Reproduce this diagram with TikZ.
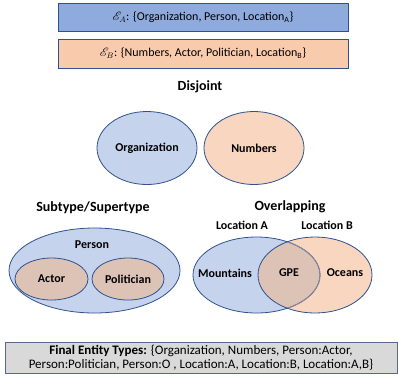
\documentclass[tikz,border=0pt]{standalone}
\usepackage{fontspec}
\setmainfont{Carlito}
\usepackage{mathrsfs}
\usetikzlibrary{shapes.geometric}
\definecolor{boxA}{HTML}{8FAADC}
\definecolor{boxB}{HTML}{F8CBAD}
\definecolor{edgeblue}{HTML}{2F528F}
\definecolor{lblue}{HTML}{C5D3EC}
\definecolor{lpeach}{HTML}{F8D6C0}
\definecolor{mixc}{HTML}{DDC2B6}
\definecolor{grayfill}{HTML}{D9D9D9}
\definecolor{grayedge}{HTML}{55698A}
\definecolor{innergray}{HTML}{8C8A98}
\begin{document}
\begin{tikzpicture}[x=1pt,y=-1pt,
  topbox/.style={draw=edgeblue, line width=0.8pt, minimum width=290pt, minimum height=28pt, inner sep=0pt, font=\fontsize{12}{14}\selectfont},
  ell/.style={ellipse, draw=edgeblue, line width=0.8pt, inner sep=0pt},
  lbl/.style={font=\bfseries\fontsize{12}{14}\selectfont, inner sep=0pt},
  ttl/.style={font=\bfseries\fontsize{14}{16}\selectfont, inner sep=0pt}]
\useasboundingbox (0,0) rectangle (398,376);
% top boxes
\node[topbox, fill=boxA] (ea) at (203,17) {$\mathscr{E}_A$: \{Organization, Person, Location\textsubscript{A}\}};
\node[topbox, fill=boxB, minimum height=29pt] (eb) at (203,53.5) {$\mathscr{E}_B$: \{Numbers, Actor, Politician, Location\textsubscript{B}\}};
% disjoint
\node[ttl] (tdis) at (200,87) {Disjoint};
\node[ell, fill=lblue, minimum width=100pt, minimum height=73pt, lbl] (org) at (147,148) {Organization};
\node[ell, fill=lpeach, minimum width=100pt, minimum height=73pt, lbl] (num) at (254,148) {Numbers};
% subtype
\node[ttl] (tsub) at (93,208) {Subtype/Supertype};
\node[ell, fill=lblue, minimum width=171pt, minimum height=85pt] (per) at (94.5,270.5) {};
\node[lbl] (perl) at (92,245) {Person};
\node[ell, fill=mixc, minimum width=73pt, minimum height=42pt, lbl] (act) at (51.5,279) {Actor};
\node[ell, fill=mixc, minimum width=72pt, minimum height=42pt, lbl] (pol) at (128,279) {Politician};
% overlapping
\node[ttl] (tover) at (290,207) {Overlapping};
\node[lbl] (la) at (242,225) {Location A};
\node[lbl] (lb) at (327,225) {Location B};
\coordinate (ca) at (256.5,275);
\coordinate (cb) at (315,275);
\fill[lblue] (ca) ellipse [x radius=63.5, y radius=38];
\fill[lpeach] (cb) ellipse [x radius=57, y radius=38];
\begin{scope}
\clip (ca) ellipse [x radius=63.5, y radius=38];
\fill[mixc] (cb) ellipse [x radius=57, y radius=38];
\end{scope}
\draw[edgeblue, line width=0.8pt] (ca) ellipse [x radius=63.5, y radius=38];
\begin{scope}
\clip (cb) ellipse [x radius=57, y radius=38];
\draw[innergray, line width=0.8pt] (ca) ellipse [x radius=63.5, y radius=38];
\end{scope}
\draw[edgeblue, line width=0.8pt] (cb) ellipse [x radius=57, y radius=38];
\node[lbl] (mnt) at (225,273) {Mountains};
\node[lbl] (gpe) at (289,273) {GPE};
\node[lbl] (oce) at (345,273) {Oceans};
% final
\node[draw=grayedge, fill=grayfill, line width=0.8pt, minimum width=392pt, minimum height=31pt, inner sep=0pt, align=center, font=\fontsize{13}{14}\selectfont] (fin) at (201,357.5) {\textbf{Final Entity Types:} \{Organization, Numbers, Person:Actor,\\Person:Politician, Person:O , Location:A, Location:B, Location:A,B\}};
\end{tikzpicture}
\end{document}
